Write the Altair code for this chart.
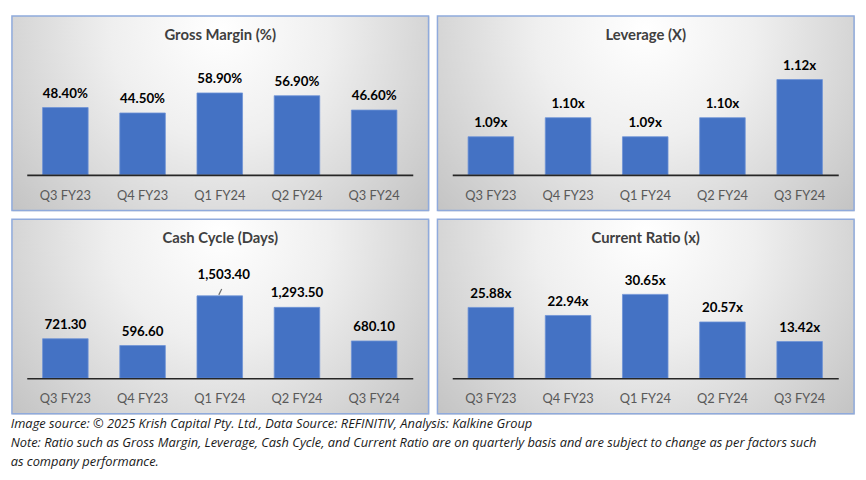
import altair as alt
import pandas as pd

quarters = ["Q3 FY23", "Q4 FY23", "Q1 FY24", "Q2 FY24", "Q3 FY24"]
gross_margin = [48.40, 44.50, 58.90, 56.90, 46.60]
leverage = [1.09, 1.10, 1.09, 1.10, 1.12]
cash_cycle = [721.30, 596.60, 1503.40, 1293.50, 680.10]
current_ratio = [25.88, 22.94, 30.65, 20.57, 13.42]
cash_raise = [0, 0, 1, 0, 0]

titles = ["Gross Margin (%)", "Leverage (X)", "Cash Cycle (Days)", "Current Ratio (x)"]
footnote = [
    "Image source: \u00a9 2025 Krish Capital Pty. Ltd., Data Source: REFINITIV, Analysis: Kalkine Group",
    "Note: Ratio such as Gross Margin, Leverage, Cash Cycle, and Current Ratio are on quarterly basis and are subject to change as per factors such",
    "as company performance.",
]

W, H = 422, 197
BASE_Y = 161
FONT = "Lato"
BAR = "#4472C4"

gradient = {
    "gradient": "radial",
    "x1": 0.5, "y1": 0.3, "r1": 0,
    "x2": 0.5, "y2": 0.3, "r2": 0.75,
    "stops": [
        {"offset": 0, "color": "#ffffff"},
        {"offset": 0.35, "color": "#efefef"},
        {"offset": 1, "color": "#bababa"},
    ],
}


def panel(title, values, fmt, suffix, base, top, raise_flags=None):
    if raise_flags is None:
        raise_flags = [0] * len(values)
    df = pd.DataFrame({"quarter": quarters, "value": values, "raise": raise_flags})
    bg = alt.Chart(pd.DataFrame({"k": [0]})).mark_rect(
        fill=gradient, stroke="#8faadc", strokeWidth=1.5
    ).encode(x=alt.value(0), x2=alt.value(W), y=alt.value(0), y2=alt.value(H))

    x = alt.X(
        "quarter:N", sort=quarters, title=None,
        scale=alt.Scale(range=[15, 406], paddingInner=0.41, paddingOuter=0.205),
        axis=alt.Axis(
            orient="bottom", offset=-(H - BASE_Y), ticks=False, domain=True,
            domainColor="#262626", domainWidth=1.6, labelPadding=15,
            labelFontSize=13, labelColor="#595959", labelFont=FONT,
            labelAngle=0, zindex=1,
        ),
    )
    y = alt.Y(
        "value:Q", title=None, axis=None,
        scale=alt.Scale(domain=[base, top], range=[BASE_Y, 0], nice=False, zero=False),
    )
    base_chart = alt.Chart(df).encode(x=x)
    bars = base_chart.mark_bar(color=BAR, stroke="#6f93d6", strokeWidth=0.8).encode(
        y=y, y2=alt.datum(base)
    )
    lab = base_chart.transform_calculate(
        label=f"format(datum.value, '{fmt}') + '{suffix}'"
    )
    normal = lab.transform_filter("datum.raise == 0").mark_text(
        font=FONT, fontSize=13.5, fontWeight="bold", color="#000000",
        baseline="alphabetic", dy=-10,
    ).encode(y=y, text="label:N")
    raised = lab.transform_filter("datum.raise == 1").mark_text(
        font=FONT, fontSize=13.5, fontWeight="bold", color="#000000",
        baseline="alphabetic", dy=-17, dx=4,
    ).encode(y=y, text="label:N")
    leader = base_chart.transform_filter("datum.raise == 1").mark_rule(
        color="#6e6e6e", strokeWidth=1.2, xOffset=-1, x2Offset=2, yOffset=-1, y2Offset=-7
    ).encode(y=y, y2=alt.Y2("value:Q"), x2=alt.X2("quarter:N"))

    return alt.layer(bg, bars, leader, normal, raised).properties(
        width=W, height=H,
        title=alt.TitleParams(
            title, offset=-28, fontSize=15, font=FONT, fontWeight="bold",
            color="#404040", anchor="middle",
        ),
    )


p1 = panel(titles[0], gross_margin, ".2f", "%", 0, 114.3)
p2 = panel(titles[1], leverage, ".2f", "x", 1.07, 1.1534)
p3 = panel(titles[2], cash_cycle, ",.2f", "", 0, 2901, cash_raise)
p4 = panel(titles[3], current_ratio, ".2f", "x", 0, 58.1)

chart = alt.vconcat(
    alt.hconcat(p1, p2, spacing=5),
    alt.hconcat(p3, p4, spacing=5),
    spacing=5,
).properties(
    padding={"left": 2, "top": 3, "right": 2, "bottom": 2},
    title=alt.TitleParams(
        footnote, orient="bottom", anchor="start", fontSize=13, font="Open Sans",
        fontStyle="italic", fontWeight="normal", color="#1a1a1a",
        lineHeight=19.5, offset=3,
    ),
).configure_view(stroke=None).configure(background="white")

chart.save("out.html", embed_options={"renderer": "svg", "actions": False})
